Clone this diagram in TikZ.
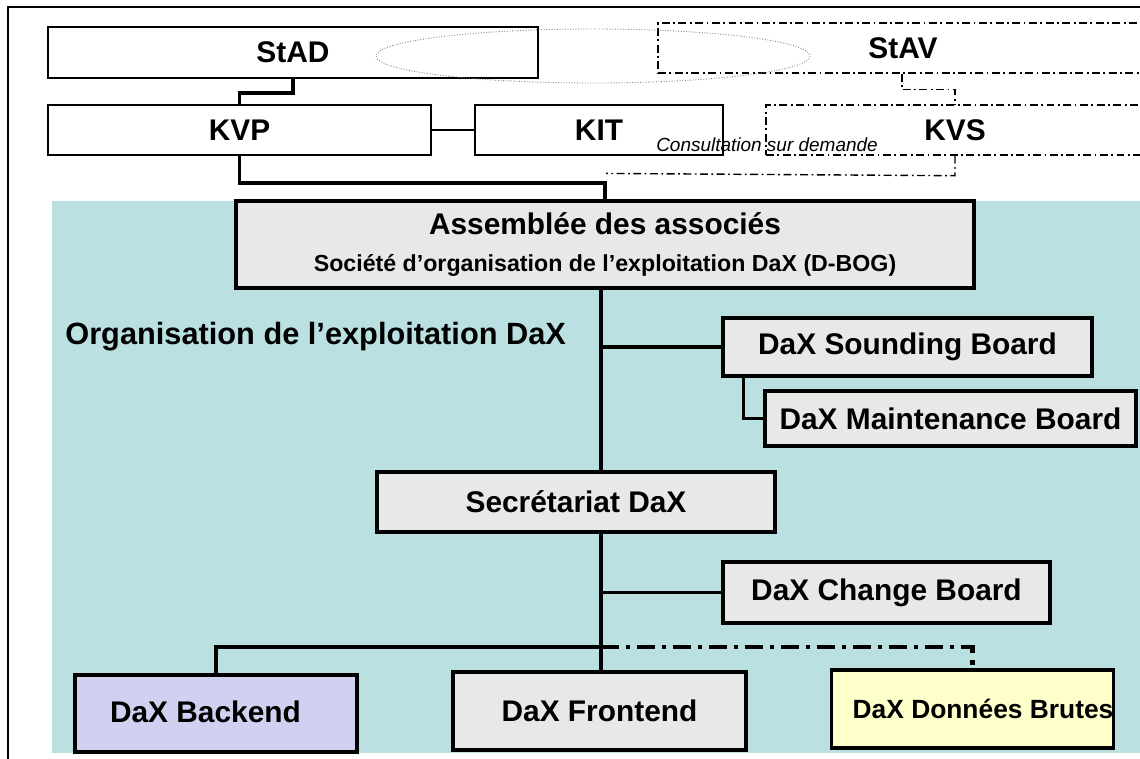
\documentclass[tikz,border=0pt]{standalone}
\usepackage{fontspec}
\setmainfont{Liberation Sans}
\usetikzlibrary{calc}
\definecolor{teal}{RGB}{186,224,226}
\definecolor{boxgray}{RGB}{232,232,232}
\definecolor{lavender}{RGB}{208,208,240}
\definecolor{paleyellow}{RGB}{255,255,204}

\begin{document}
\begin{tikzpicture}[x=0.02cm,y=-0.02cm,
	topbox/.style={draw,line width=0.7pt,fill=white,inner sep=0pt,font=\fontsize{17}{20}\selectfont\bfseries},
	dashbox/.style={draw,line width=0.8pt,dash pattern=on 4.5pt off 2pt on 1pt off 2pt,inner sep=0pt,font=\fontsize{17}{20}\selectfont\bfseries},
	orgbox/.style={draw,line width=1.8pt,fill=boxgray,inner sep=0pt,font=\fontsize{17}{20}\selectfont\bfseries},
	thickline/.style={line width=2.2pt},
	spineline/.style={line width=2pt},
	dashdotline/.style={line width=0.8pt,dash pattern=on 4.5pt off 2pt on 1pt off 2pt}]
	\useasboundingbox (0,0) rectangle (1140,758);
	\clip (0,0) rectangle (1140,758);
	
	%FRAME AND BACKGROUND
	\draw[line width=1.4pt] (8,7) rectangle (1150,770);
	\fill[teal] (52,201) rectangle (1150,753);
	
	%TOP BOXES
	\node[topbox,minimum width=9.8cm,minimum height=1.02cm] (stad) at (293,52.5) {StAD};
	\node[dashbox,minimum width=9.8cm,minimum height=1cm] (stav) at (903,48) {StAV};
	\draw[gray,line width=0.5pt,densely dotted] (593,56) ellipse (217 and 27);
	\node[topbox,minimum width=7.66cm,minimum height=1cm] (kvp) at (239.5,130) {KVP};
	\node[topbox,minimum width=4.96cm,minimum height=1cm] (kit) at (599,130) {KIT};
	\node[dashbox,minimum width=7.56cm,minimum height=1cm] (kvs) at (955,130) {KVS};
	\node[font=\fontsize{10.8}{12}\selectfont\itshape] (consult) at (767,145) {Consultation sur demande};
	
	%DAX ORGANISATION
	\node[orgbox,minimum width=14.76cm,minimum height=1.74cm,align=center] (asm) at (605,244.5)
	{\raisebox{3pt}{Assemblée des associés}\\[-2pt]{\fontsize{13.2}{15}\selectfont Société d’organisation de l’exploitation DaX (D-BOG)}};
	\node[anchor=west,inner sep=0pt,font=\fontsize{17.5}{20}\selectfont\bfseries] (orgtitle) at (65,337) {Organisation de l’exploitation DaX};
	\node[orgbox,minimum width=7.38cm,minimum height=1.16cm] (sb) at (907.5,347) {DaX Sounding Board};
	\node[orgbox,minimum width=7.42cm,minimum height=1.1cm] (mb) at (950.5,418.5) {DaX Maintenance Board};
	\node[orgbox,minimum width=7.96cm,minimum height=1.2cm] (sec) at (576,502) {Secrétariat DaX};
	\node[orgbox,minimum width=6.54cm,minimum height=1.22cm] (cb) at (886.5,592.5) {DaX Change Board};
	\node[orgbox,fill=lavender,minimum width=5.64cm,minimum height=1.54cm,text depth=0pt] (back) at (216,713.5) {\hspace*{-12pt}\raisebox{2pt}{DaX Backend}};
	\node[orgbox,minimum width=5.86cm,minimum height=1.56cm] (front) at (599.5,711) {DaX Frontend};
	\node[orgbox,fill=paleyellow,minimum width=5.62cm,minimum height=1.56cm,font=\fontsize{15}{17}\selectfont\bfseries] (brut) at (972.5,709) {\hspace{12pt}DaX Données Brutes};
	
	%CONNECTORS
	\coordinate (spine) at (601,0);
	\coordinate (busmid) at (601,647);
	\draw[thickline] (stad.south) -- ++(0,14) -| (kvp.north);
	\draw[line width=0.6pt] (kvp.east) -- (kit.west);
	\draw[thickline] (kvp.south) -- ++(0,27) -| (asm.north);
	\draw[dashdotline] (stav.south -| 902,0) -- ++(0,16) -| (kvs.north);
	\draw[dashdotline] (kvs.south) -- ++(0,20) -- ($(asm.north)+(1,-26)$);
	%spine
	\draw[spineline] (asm.south -| spine) -- (sec.north -| spine);
	\draw[spineline] (sec.south -| spine) -- (front.north -| spine);
	\draw[spineline] (sb.west) -- (sb.west -| spine);
	\draw[spineline] ($(sb.south west)+(22,0)$) |- (mb.west);
	\draw[spineline] (cb.west) -- (cb.west -| spine);
	%bus
	\draw[line width=2.4pt] (back.north) |- (busmid);
	\draw[line width=2.4pt,dash pattern=on 10pt off 4pt on 2.5pt off 4pt] (busmid) -| (brut.north);
\end{tikzpicture}
\end{document}
